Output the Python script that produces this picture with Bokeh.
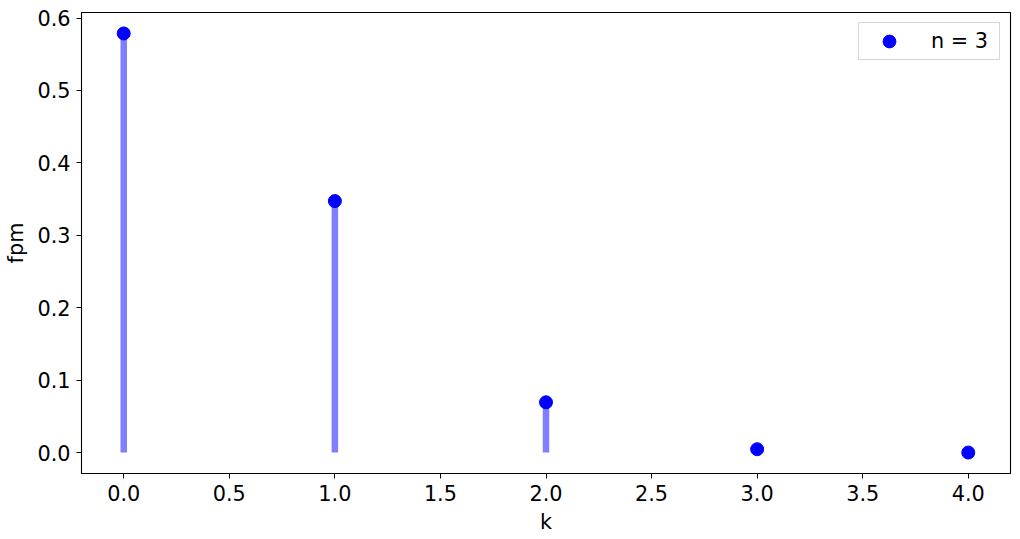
from bokeh.plotting import figure
from bokeh.models import FixedTicker, NumeralTickFormatter, Range1d, Legend, LegendItem, ColumnDataSource
from bokeh.embed import file_html
from bokeh.resources import INLINE

k = [0, 1, 2, 3, 4]
fpm = [0.5787, 0.3472, 0.0694, 0.0046, 0.0]
x_ticks = [0.0, 0.5, 1.0, 1.5, 2.0, 2.5, 3.0, 3.5, 4.0]
y_ticks = [0.0, 0.1, 0.2, 0.3, 0.4, 0.5, 0.6]
label = "n = 3"

FONT = "DejaVu Sans"
FS = "20.8px"

p = figure(width=1020, height=539, output_backend="svg", toolbar_location=None,
           x_range=Range1d(-0.2, 4.2), y_range=Range1d(-0.0289, 0.6076),
           min_border_left=81, min_border_right=10, min_border_top=12, min_border_bottom=66)
p.xgrid.visible = False
p.ygrid.visible = False
p.outline_line_color = "black"
p.outline_line_width = 1.1

src = ColumnDataSource(dict(k=k, fpm=fpm, zero=[0.0] * len(k)))
p.segment(x0="k", y0="zero", x1="k", y1="fpm", source=src, line_color="blue",
          line_alpha=0.5, line_width=6.5)
r = p.scatter(x="k", y="fpm", source=src, size=13, fill_color="blue", line_color="blue")

for ax, ticks, name in ((p.xaxis[0], x_ticks, "k"), (p.yaxis[0], y_ticks, "fpm")):
    ax.ticker = FixedTicker(ticks=ticks)
    ax.formatter = NumeralTickFormatter(format="0.0")
    ax.axis_label = name
    ax.axis_label_text_font = FONT
    ax.axis_label_text_font_size = FS
    ax.axis_label_text_font_style = "normal"
    ax.major_label_text_font = FONT
    ax.major_label_text_font_size = FS
    ax.major_label_text_color = "black"
    ax.axis_label_text_color = "black"
    ax.major_tick_out = 5
    ax.major_tick_in = 0
    ax.minor_tick_out = 0
    ax.minor_tick_in = 0
    ax.axis_line_color = "black"
    ax.major_tick_line_color = "black"
    ax.major_label_standoff = 6
    ax.axis_label_standoff = 6

legend = Legend(items=[LegendItem(label=label, renderers=[r])], location="top_right")
legend.label_text_font = FONT
legend.label_text_font_size = FS
legend.label_text_color = "black"
legend.glyph_width = 56
legend.glyph_height = 32
legend.label_standoff = 14
legend.label_width = 66
legend.padding = 2
legend.margin = 10
legend.border_line_color = "#cccccc"
legend.border_line_alpha = 0.8
legend.background_fill_alpha = 0.8
p.add_layout(legend)

open("out.html", "w").write(file_html(p, INLINE))
